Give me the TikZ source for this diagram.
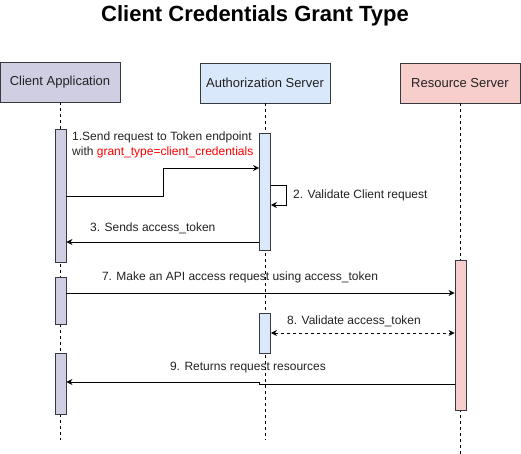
\documentclass[tikz,border=0pt]{standalone}
\usepackage{fontspec}
\setmainfont{Liberation Sans}
\usetikzlibrary{arrows.meta}
\definecolor{cfill}{HTML}{D0CEE2}
\definecolor{cline}{HTML}{56517E}
\definecolor{afill}{HTML}{DAE8FC}
\definecolor{aline}{HTML}{6C8EBF}
\definecolor{rfill}{HTML}{F8CECC}
\definecolor{rline}{HTML}{B85450}
\definecolor{txt}{HTML}{222222}
\definecolor{hline}{HTML}{36393D}
\begin{document}
\begin{tikzpicture}[x=1pt,y=-1pt,
  hdr/.style={draw=hline, line width=0.9pt, minimum height=40pt, inner sep=0pt, font=\fontsize{13}{15}\selectfont, text=txt},
  act/.style={draw=hline, line width=0.8pt, minimum width=11pt, inner sep=0pt},
  life/.style={draw=black, dashed, dash pattern=on 3pt off 3pt, line width=0.6pt},
  msg/.style={draw=black, line width=0.8pt, -{Stealth[length=6pt,width=6pt]}},
  lbl/.style={font=\fontsize{12}{14}\selectfont, text=txt, inner sep=0pt}]
\useasboundingbox (0,0) rectangle (521,454);
\node[font=\fontsize{22}{26}\selectfont\bfseries] (title) at (255,16) {Client Credentials Grant Type};
% headers
\node[hdr, fill=cfill, minimum width=120pt] (ca) at (60,82) {Client Application};
\node[hdr, fill=afill, minimum width=130pt] (as) at (265,83) {Authorization Server};
\node[hdr, fill=rfill, minimum width=120pt] (rs) at (460,83) {Resource Server};
% lifeline ends
\coordinate (caend) at (60,440);
\coordinate (asend) at (265,440);
\coordinate (rsend) at (460,454);
\draw[life] (ca.south) -- (caend);
\draw[life] (as.south) -- (asend);
\draw[life] (rs.south) -- (rsend);
% activations
\node[act, fill=cfill, minimum height=133pt] (c1) at (60.5,195.5) {};
\node[act, fill=afill, minimum height=117pt] (a1) at (265,191.5) {};
\node[act, fill=cfill, minimum height=47pt] (c2) at (60.5,300.5) {};
\node[act, fill=afill, minimum height=40pt] (a2) at (265,333) {};
\node[act, fill=cfill, minimum height=61pt] (c3) at (60.5,383.5) {};
\node[act, fill=rfill, minimum height=150pt] (r1) at (460.5,335) {};
% message 1
\coordinate (m1a) at (c1.east |- 0,196);
\coordinate (m1b) at (a1.west |- 0,168);
\draw[msg] (m1a) -- (163,196) -- (163,168) -- (m1b);
\node[lbl, anchor=west] (l1a) at (72,137) {1.Send request to Token endpoint};
\node[lbl, anchor=west] (l1b) at (72,152) {with \textcolor{red}{grant\_type=client\_credentials}};
% message 2
\coordinate (m2a) at (a1.east |- 0,185);
\coordinate (m2b) at (a1.east |- 0,205);
\draw[msg] (m2a) -- (286,185) -- (286,205) -- (m2b);
\node[lbl, anchor=west] (l2) at (293,195) {2. Validate Client request};
% message 3
\coordinate (m3a) at (a1.west |- 0,242);
\coordinate (m3b) at (c1.east |- 0,242);
\draw[msg] (m3a) -- (m3b);
\node[lbl, anchor=west] (l3) at (90,228) {3. Sends access\_token};
% message 7
\coordinate (m7a) at (c2.east |- 0,293);
\coordinate (m7b) at (r1.west |- 0,293);
\draw[msg] (m7a) -- (m7b);
\node[lbl] (l7) at (240,277) {7. Make an API access request using access\_token};
% message 8
\coordinate (m8a) at (a2.east |- 0,333);
\coordinate (m8b) at (r1.west |- 0,333);
\draw[msg, {Stealth[length=6pt,width=6pt]}-{Stealth[length=6pt,width=6pt]}, dashed, dash pattern=on 3pt off 3pt] (m8a) -- (m8b);
\node[lbl] (l8) at (354,321) {8. Validate access\_token};
% message 9
\coordinate (m9a) at (r1.west |- 0,384);
\coordinate (m9b) at (c3.east |- 0,382);
\draw[msg] (m9a) -- (259,384) -- (259,382) -- (m9b);
\node[lbl] (l9) at (248,368) {9. Returns request resources};
\end{tikzpicture}
\end{document}
